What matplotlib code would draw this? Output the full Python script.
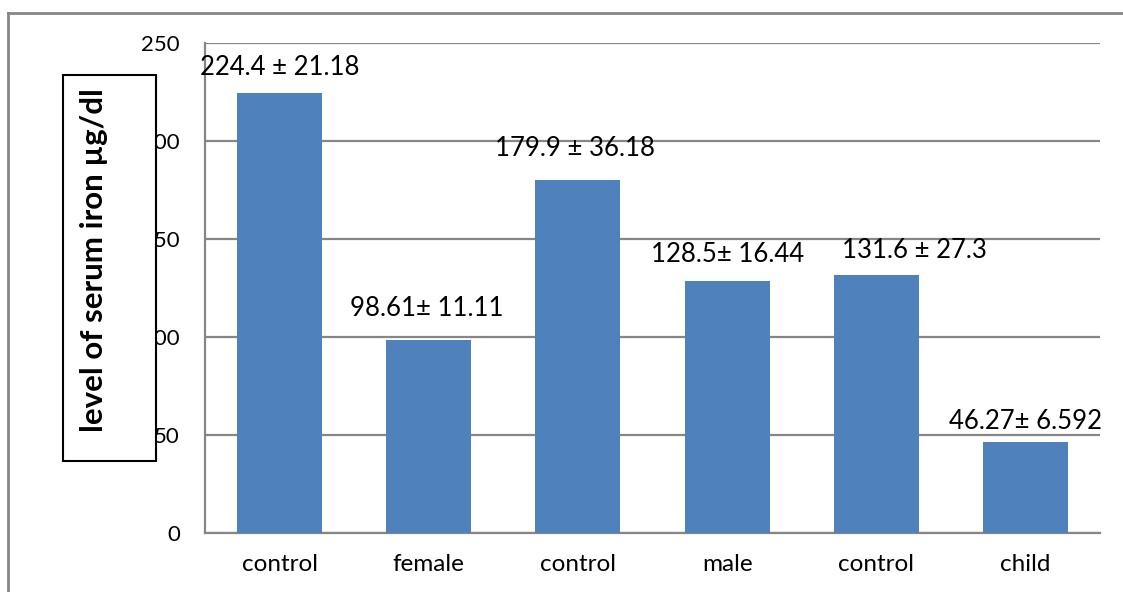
import matplotlib
matplotlib.use('Agg')
import matplotlib.pyplot as plt
from matplotlib.patches import Rectangle
from matplotlib.lines import Line2D

categories = ['control', 'female', 'control', 'male', 'control', 'child']
means = [224.4, 98.61, 179.9, 128.5, 131.6, 46.27]
labels = ['224.4 ± 21.18', '98.61± 11.11', '179.9 ± 36.18',
          '128.5± 16.44', '131.6 ± 27.3', '46.27± 6.592']
yticks = [0, 50, 100, 150, 200, 250]

# label nudges in pixels (dx, gap between bar top and baseline)
label_nudge = [(0, 18), (-2, 24), (-3, 24), (0, 19), (38, 17), (0, 13)]

W, H = 1123, 592
DPI = 100
plt.rcParams['font.family'] = ['Lato', 'DejaVu Sans']

fig = plt.figure(figsize=(W / DPI, H / DPI), dpi=DPI)
ax = fig.add_axes([205 / W, (H - 533) / H, (1100 - 205) / W, (533 - 43) / H])

grey = '#868686'
x = range(len(categories))
ax.bar(x, means, width=0.57, color='#4F81BD', zorder=3)
ax.set_xlim(-0.5, len(categories) - 0.5)
ax.set_ylim(0, 250)
ax.set_yticks(yticks)
ax.set_xticks(list(x))
ax.set_xticklabels(categories)
ax.tick_params(axis='both', length=0, colors='black')
ax.tick_params(axis='y', pad=18, labelsize=16)
ax.tick_params(axis='x', pad=15, labelsize=17.5)
ax.yaxis.grid(True, color=grey, lw=1.6, zorder=0)
ax.set_axisbelow(True)
for side in ['top', 'right']:
    ax.spines[side].set_visible(False)
for side in ['left', 'bottom']:
    ax.spines[side].set_color(grey)
    ax.spines[side].set_linewidth(1.6)

for i, (m, lab) in enumerate(zip(means, labels)):
    dx, dy = label_nudge[i]
    ax.annotate(lab, (i, m), xytext=(dx * 72 / DPI, dy * 72 / DPI),
                textcoords='offset points', ha='center', va='baseline',
                fontsize=18.5, zorder=4)

# boxed y-axis title drawn over the tick labels
box = Rectangle((63 / W, 1 - 461 / H), (156 - 63) / W, (461 - 75) / H,
                transform=fig.transFigure, facecolor='white',
                edgecolor='black', lw=1.5, zorder=10)
fig.patches.append(box)
fig.text(94 / W, 1 - 260 / H, 'level of serum iron µg/dl', rotation=90,
         ha='center', va='center', fontsize=22.5, fontweight='bold', zorder=11)

# outer chart border (right and bottom edges fall outside the image)
fig.add_artist(Line2D([8 / W, 1], [1 - 13 / H, 1 - 13 / H],
                      transform=fig.transFigure, color=grey, lw=2))
fig.add_artist(Line2D([8 / W, 8 / W], [0, 1 - 13 / H],
                      transform=fig.transFigure, color=grey, lw=2))

fig.savefig('out.png', dpi=DPI)
